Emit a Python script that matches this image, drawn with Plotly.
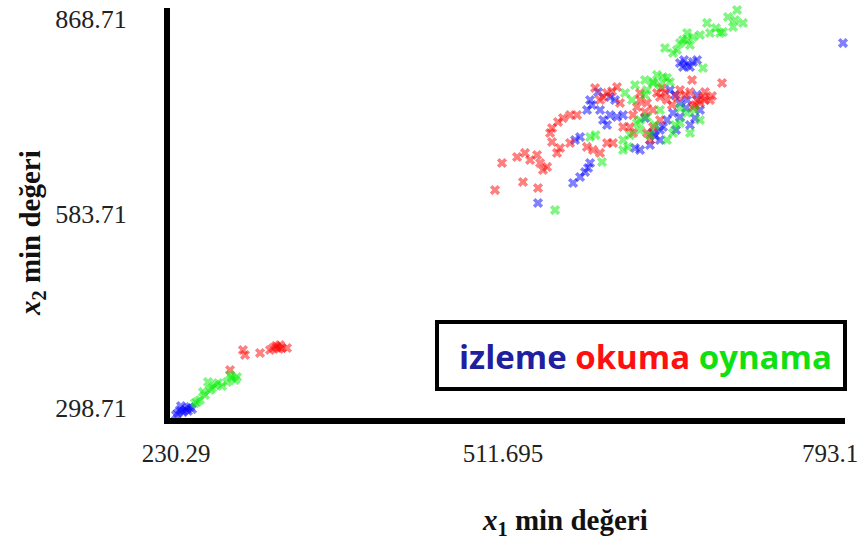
import plotly.graph_objects as go

# Minimum-value pairs (x1, x2) per activity group
izleme_x = [232.0, 233.7, 236.3, 239.8, 242.3, 238.0, 244.1, 230.3, 234.6, 240.6,
            664.0, 670.1, 675.2, 678.7, 672.6, 666.6, 667.5, 804.3,
            603.8, 586.6, 584.0, 588.3, 603.8, 609.8, 615.0, 601.2, 597.8,
            578.0, 573.7, 629.6, 625.3, 586.6, 582.3, 578.0, 572.0, 584.9, 541.8,
            655.4, 664.0, 670.1, 658.0, 652.8, 649.4, 664.0, 640.8, 646.8, 642.5,
            678.7, 681.2, 660.6, 633.9, 672.6,
            659.7, 669.2, 646.8, 676.9, 608.1, 595.2, 593.5, 638.2]
izleme_y = [291.4, 295.8, 292.8, 298.7, 300.2, 295.8, 297.2, 288.5, 301.6, 294.3,
            804.2, 801.3, 805.7, 808.6, 798.4, 798.4, 808.6, 833.5,
            754.4, 750.0, 735.4, 742.7, 728.0, 725.1, 728.0, 713.4, 720.7,
            695.8, 691.4, 676.8, 679.7, 657.7, 644.5, 637.2, 628.4, 650.4, 599.1,
            764.7, 745.6, 750.0, 731.0, 720.7, 710.5, 725.1, 701.7, 691.4, 697.3,
            757.4, 735.4, 706.1, 723.6, 713.4,
            757.4, 738.3, 706.1, 723.6, 750.0, 735.4, 761.7, 684.1]

okuma_x = [276.8, 287.9, 289.7, 302.6, 313.8, 317.2, 319.8, 321.5, 325.8, 311.2, 316.3, 318.9,
           700.2, 674.4, 609.8, 601.2, 597.8, 563.3, 569.4, 575.4, 553.9, 552.2, 553.9, 559.0,
           569.4, 560.8, 558.2, 583.9, 589.2, 595.2, 601.2, 606.4, 523.8, 530.6, 541.0, 543.6,
           549.6, 535.0, 510.8, 504.8, 528.9, 541.8, 546.1,
           629.6, 635.6, 646.8, 652.8, 664.0, 678.7, 681.2, 683.8, 675.2, 640.8, 661.4, 627.0,
           620.9, 615.0, 635.6, 640.8, 623.6, 638.2, 657.1, 668.3, 685.5, 648.5, 689.8, 644.2, 633.9,
           672.6, 676.9, 685.5, 691.6, 651.1, 629.6, 612.4, 646.8, 623.6, 595.2, 590.9, 605.5]
okuma_y = [354.4, 383.7, 376.4, 379.3, 386.6, 388.1, 391.0, 386.6, 386.6, 383.7, 389.6, 385.2,
           774.9, 779.3, 769.1, 760.3, 754.4, 723.6, 728.0, 728.0, 709.0, 701.7, 688.5, 717.8,
           687.0, 679.7, 672.4, 681.2, 676.8, 672.4, 687.0, 687.0, 666.5, 672.4, 669.4, 657.7,
           651.9, 662.1, 657.7, 618.1, 629.9, 621.1, 647.5,
           750.0, 745.6, 754.4, 750.0, 764.7, 750.0, 745.6, 754.4, 739.8, 735.4, 754.4, 739.8,
           710.5, 710.5, 701.7, 710.5, 701.7, 691.4, 742.7, 757.4, 761.7, 767.6, 750.0, 760.3, 732.4,
           761.7, 742.7, 750.0, 755.9, 760.3, 760.3, 745.6, 720.7, 728.0, 750.0, 767.6, 762.8]

oynama_x = [246.6, 250.9, 255.2, 259.5, 257.8, 263.9, 266.4, 274.2, 278.5, 281.1, 276.8, 282.8,
            253.5, 248.4, 261.3, 269.9,
            713.1, 705.3, 687.3, 718.2, 709.6, 701.0, 698.5, 689.8, 681.2, 675.2, 670.1, 666.6,
            664.0, 661.4, 651.1, 658.0, 683.8, 670.1, 711.4, 695.0, 672.6,
            652.8, 640.8, 625.3, 622.7, 586.6, 591.3, 596.9, 556.5, 615.0, 619.3, 635.6, 640.8,
            646.8, 664.0, 670.1, 658.0, 652.8, 635.6, 627.0, 615.0, 629.6, 646.8, 655.4, 633.9,
            681.2, 672.6, 649.4, 664.0, 638.2, 621.0,
            629.6, 642.5, 659.7, 676.9, 616.7, 633.9, 644.2]
oynama_y = [306.0, 310.4, 317.8, 325.1, 336.8, 332.4, 335.3, 336.8, 342.7, 339.7, 347.1, 344.1,
            322.2, 307.5, 328.0, 331.0,
            881.9, 871.6, 862.9, 862.9, 857.0, 849.7, 848.2, 848.2, 845.3, 842.3, 848.2, 837.9,
            833.5, 823.3, 826.2, 818.9, 796.9, 837.9, 867.2, 855.5, 830.6,
            782.3, 776.4, 772.0, 750.0, 695.8, 698.7, 659.2, 588.8, 676.8, 681.2, 764.7, 774.9,
            735.4, 716.3, 731.0, 701.7, 691.4, 725.1, 716.3, 691.4, 706.1, 772.0, 776.4, 757.4,
            720.7, 701.7, 783.7, 738.3, 698.7, 698.7,
            720.7, 713.4, 713.4, 735.4, 760.3, 779.3, 786.7]

groups = [
    ("izleme", izleme_x, izleme_y, "#0000ff"),
    ("okuma", okuma_x, okuma_y, "#ff0000"),
    ("oynama", oynama_x, oynama_y, "#00ee00"),
]

x_ticks = [230.29, 511.695, 793.1]
x_ticktext = ["230.29", "511.695", "793.1"]
y_ticks = [298.71, 583.71, 868.71]
y_ticktext = ["298.71", "583.71", "868.71"]

serif = "Liberation Serif, Times New Roman, serif"

fig = go.Figure()
for name, xs, ys, color in groups:
    fig.add_trace(go.Scatter(
        x=xs, y=ys, mode="markers", name=name,
        marker=dict(symbol="x", size=9, color=color, opacity=0.5,
                    line=dict(width=0)),
        cliponaxis=False,
    ))

fig.update_layout(
    width=858, height=545,
    margin=dict(l=170, r=13, t=8, b=127),
    paper_bgcolor="white", plot_bgcolor="white",
    showlegend=False,
    xaxis=dict(
        range=[225.13, 806.0], showgrid=False, zeroline=False,
        showline=True, linecolor="black", linewidth=6, automargin=False,
        tickmode="array", tickvals=x_ticks, ticktext=x_ticktext,
        ticks="", ticklabelstandoff=8, ticklabeloverflow="allow",
        tickfont=dict(family=serif, size=25, color="#222222"),
    ),
    yaxis=dict(
        range=[284.06, 884.83], showgrid=False, zeroline=False,
        showline=True, linecolor="black", linewidth=6, automargin=False,
        tickmode="array", tickvals=y_ticks, ticktext=y_ticktext,
        ticks="", ticklabelstandoff=32, ticklabeloverflow="allow",
        tickfont=dict(family=serif, size=26, color="#222222"),
    ),
)

# Axis titles
fig.add_annotation(
    xref="paper", yref="paper", x=(565 - 170) / 675, y=(418 - 522) / 410,
    text="<b><i>x</i><sub>1</sub> min değeri</b>", showarrow=False,
    font=dict(family=serif, size=29, color="#111111"),
    xanchor="center", yanchor="middle",
)
fig.add_annotation(
    xref="paper", yref="paper", x=(32 - 170) / 675, y=(418 - 233) / 410,
    text="<b><i>x</i><sub>2</sub> min değeri</b>", showarrow=False, textangle=-90,
    font=dict(family=serif, size=29, color="#111111"),
    xanchor="center", yanchor="middle",
)

# Boxed colour key
fig.add_shape(
    type="rect", xref="paper", yref="paper",
    x0=(437 - 170) / 675, x1=(845 - 170) / 675,
    y0=(418 - 389) / 410, y1=(418 - 322) / 410,
    line=dict(color="black", width=4), fillcolor="white", layer="below",
)
fig.add_annotation(
    xref="paper", yref="paper", x=(645 - 170) / 675, y=(418 - 356) / 410,
    text=("<span style='color:#1f1f9f'>izleme</span> "
          "<span style='color:#ff1010'>okuma</span> "
          "<span style='color:#10e010'>oynama</span>"),
    showarrow=False, xanchor="center", yanchor="middle",
    font=dict(family="Open Sans, sans-serif", size=33, weight=700),
)

fig.write_html("out.html")
